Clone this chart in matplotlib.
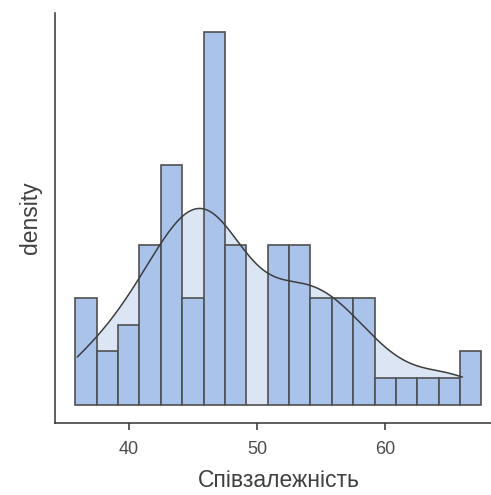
import matplotlib
matplotlib.use("Agg")
import matplotlib.pyplot as plt
import numpy as np

plt.rcParams['font.family'] = ['Liberation Sans', 'DejaVu Sans']

# Оцінки співзалежності (значення та частоти)
scores = [36, 37, 38, 39, 40, 41, 42, 43, 44, 45, 46, 47, 48, 49,
          51, 52, 53, 54, 55, 56, 57, 58, 59, 60, 62, 64, 65, 66]
freq = [3, 1, 1, 1, 3, 3, 3, 4, 5, 4, 7, 7, 3, 3,
        3, 3, 3, 3, 4, 2, 2, 2, 2, 1, 1, 1, 1, 2]
n_bins = 19
x_ticks = [40, 50, 60]

data = np.repeat(np.array(scores, dtype=float), freq)
n = len(data)

# межі інтервалів як у ggplot (bins = 19)
lo, hi = data.min(), data.max()
width = (hi - lo) / (n_bins - 1)
origin = width / 2 + np.floor((lo - width / 2) / width) * width
edges = origin + width * np.arange(n_bins + 1)
counts, _ = np.histogram(data, bins=edges)
dens = counts / (n * width)

# ядерна оцінка щільності, bw.nrd0
sd = data.std(ddof=1)
iqr = np.subtract(*np.percentile(data, [75, 25]))
bw = 0.9 * min(sd, iqr / 1.34) * n ** (-0.2)
xs = np.linspace(lo, hi, 400)
kde = np.exp(-0.5 * ((xs[:, None] - data[None, :]) / bw) ** 2).sum(axis=1)
kde /= n * bw * np.sqrt(2 * np.pi)

fig = plt.figure(figsize=(4.91, 4.95), dpi=100)
ax = fig.add_axes([0.112, 0.145, 0.91, 0.829])

ax.fill_between(xs, kde, color='#dce5f4', zorder=1, lw=0)
ax.bar(edges[:-1], dens, width=width, align='edge', color='#a9c3eb',
       edgecolor='#505050', linewidth=1.2, zorder=2)
ax.plot(xs, kde, color='#3d3d3d', lw=1.1, zorder=3)

ymax = max(dens.max(), kde.max())
ax.set_ylim(-0.05 * ymax, 1.05 * ymax)
pad = 0.05 * (edges[-1] - edges[0])
ax.set_xlim(edges[0] - pad, edges[-1] + pad)

ax.set_xticks(x_ticks)
ax.set_yticks([])
for s in ['top', 'right']:
    ax.spines[s].set_visible(False)
for s in ['left', 'bottom']:
    ax.spines[s].set_color('#333333')
    ax.spines[s].set_linewidth(1.1)
ax.tick_params(axis='x', length=5, width=1.1, color='#333333',
               labelsize=13, labelcolor='#4d4d4d', pad=8)
ax.set_xlabel('Співзалежність', fontsize=16.5, color='#404040', labelpad=8)
ax.set_ylabel('density', fontsize=16.5, color='#404040', labelpad=9)

fig.savefig('out.png', dpi=100)
